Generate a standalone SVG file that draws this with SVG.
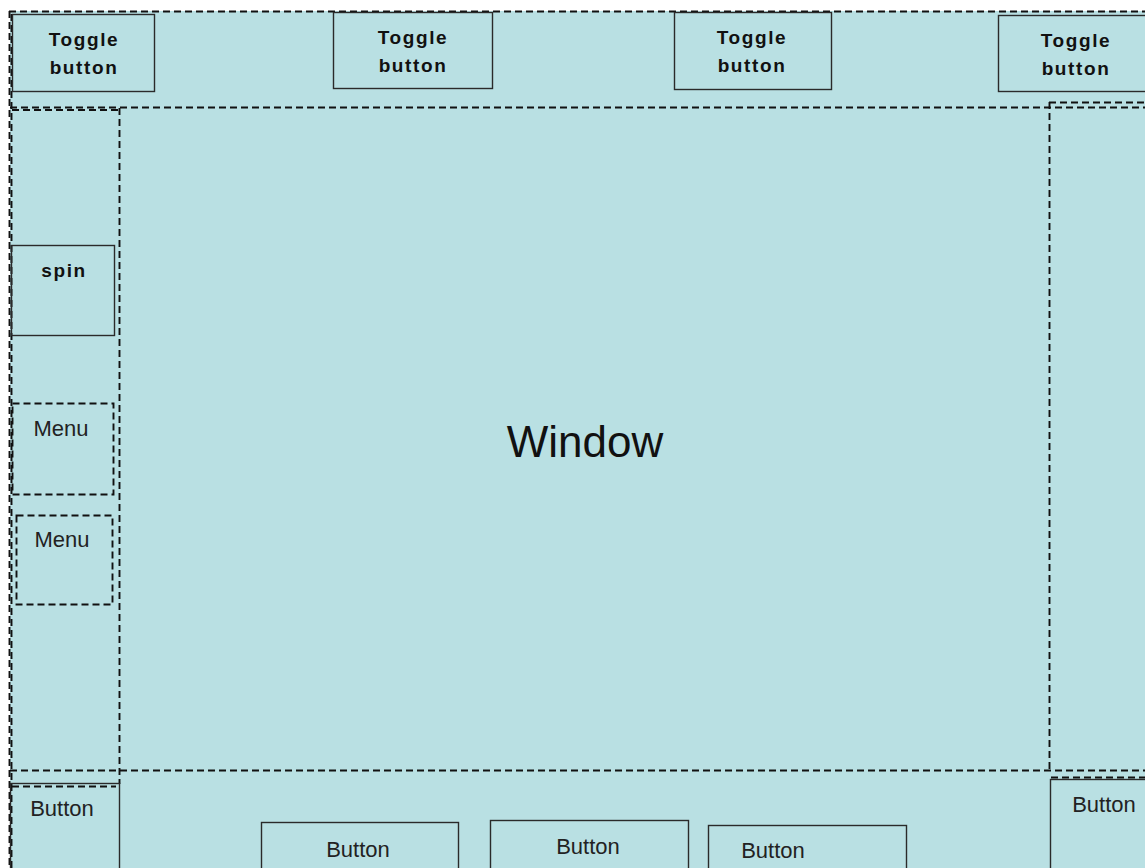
<svg xmlns="http://www.w3.org/2000/svg" width="1145" height="868" viewBox="0 0 1145 868">
  <style>
    .bg { fill: #b9e0e3; }
    .dash { fill: none; stroke: #111; stroke-width: 1.9; stroke-dasharray: 7 4; }
    .box { fill: none; stroke: #2a2a2a; stroke-width: 1.4; }
    .bold { font-family: "Liberation Sans", Arial, sans-serif; font-weight: bold; font-size: 19px; letter-spacing: 1.6px; fill: #111; text-anchor: middle; }
    .reg { font-family: "Liberation Sans", Arial, sans-serif; font-size: 22px; fill: #222; text-anchor: middle; }
    .big { font-family: "Liberation Sans", Arial, sans-serif; font-size: 44px; fill: #111; text-anchor: middle; }
  </style>

  <rect width="1145" height="868" fill="#ffffff"/>
  <rect class="bg" x="10" y="11" width="1135" height="857"/>

  <!-- layout frame: dashed region borders -->
  <g id="frame">
    <line class="dash" x1="9" y1="11.5" x2="1145" y2="11.5"/>
    <line class="dash" x1="9.5" y1="11" x2="9.5" y2="868"/>
    <line class="dash" x1="11.5" y1="14" x2="11.5" y2="868"/>
    <line class="dash" x1="10" y1="107.5" x2="1145" y2="107.5"/>
    <line class="dash" x1="12" y1="110" x2="119" y2="110"/>
    <line class="dash" x1="119.5" y1="108" x2="119.5" y2="784"/>
    <line class="dash" x1="1049.5" y1="102" x2="1049.5" y2="771"/>
    <line class="dash" x1="1049" y1="102.5" x2="1145" y2="102.5"/>
    <line class="dash" x1="10" y1="770.5" x2="1145" y2="770.5"/>
  </g>

  <g id="window">
    <text class="big" x="585" y="457">Window</text>
  </g>

  <!-- top toolbar -->
  <g id="toggle1">
    <rect class="box" x="12.5" y="14.5" width="142" height="77"/>
    <text class="bold" x="84" y="46">Toggle</text>
    <text class="bold" x="84" y="74">button</text>
  </g>
  <g id="toggle2">
    <rect class="box" x="333.5" y="12.5" width="159" height="76"/>
    <text class="bold" x="413" y="44">Toggle</text>
    <text class="bold" x="413" y="72">button</text>
  </g>
  <g id="toggle3">
    <rect class="box" x="674.5" y="12.5" width="157" height="77"/>
    <text class="bold" x="752" y="44">Toggle</text>
    <text class="bold" x="752" y="72">button</text>
  </g>
  <g id="toggle4">
    <rect class="box" x="998.5" y="15.5" width="160" height="76"/>
    <text class="bold" x="1076" y="47">Toggle</text>
    <text class="bold" x="1076" y="75">button</text>
  </g>

  <!-- left side panel -->
  <g id="spin">
    <rect class="box" x="11.5" y="245.5" width="103" height="90"/>
    <text class="bold" x="64" y="277">spin</text>
  </g>
  <g id="menu1">
    <rect class="dash" x="12.5" y="403.5" width="101" height="91"/>
    <text class="reg" x="61" y="436">Menu</text>
  </g>
  <g id="menu2">
    <rect class="dash" x="16.5" y="515.5" width="96" height="89"/>
    <text class="reg" x="62" y="547">Menu</text>
  </g>

  <!-- bottom bar -->
  <g id="button-left">
    <rect class="box" x="10.5" y="783.5" width="109" height="100"/>
    <line class="dash" x1="12" y1="786.5" x2="116" y2="786.5"/>
    <text class="reg" x="62" y="816">Button</text>
  </g>
  <g id="button1">
    <rect class="box" x="261.5" y="822.5" width="197" height="60"/>
    <text class="reg" x="358" y="857">Button</text>
  </g>
  <g id="button2">
    <rect class="box" x="490.5" y="820.5" width="198" height="60"/>
    <text class="reg" x="588" y="854">Button</text>
  </g>
  <g id="button3">
    <rect class="box" x="708.5" y="825.5" width="198" height="60"/>
    <text class="reg" x="773" y="858">Button</text>
  </g>
  <g id="button-right">
    <rect class="box" x="1050.5" y="779.5" width="120" height="100"/>
    <line class="dash" x1="1051" y1="777.5" x2="1145" y2="777.5"/>
    <text class="reg" x="1104" y="812">Button</text>
  </g>

  <g id="connectors"/>
</svg>
